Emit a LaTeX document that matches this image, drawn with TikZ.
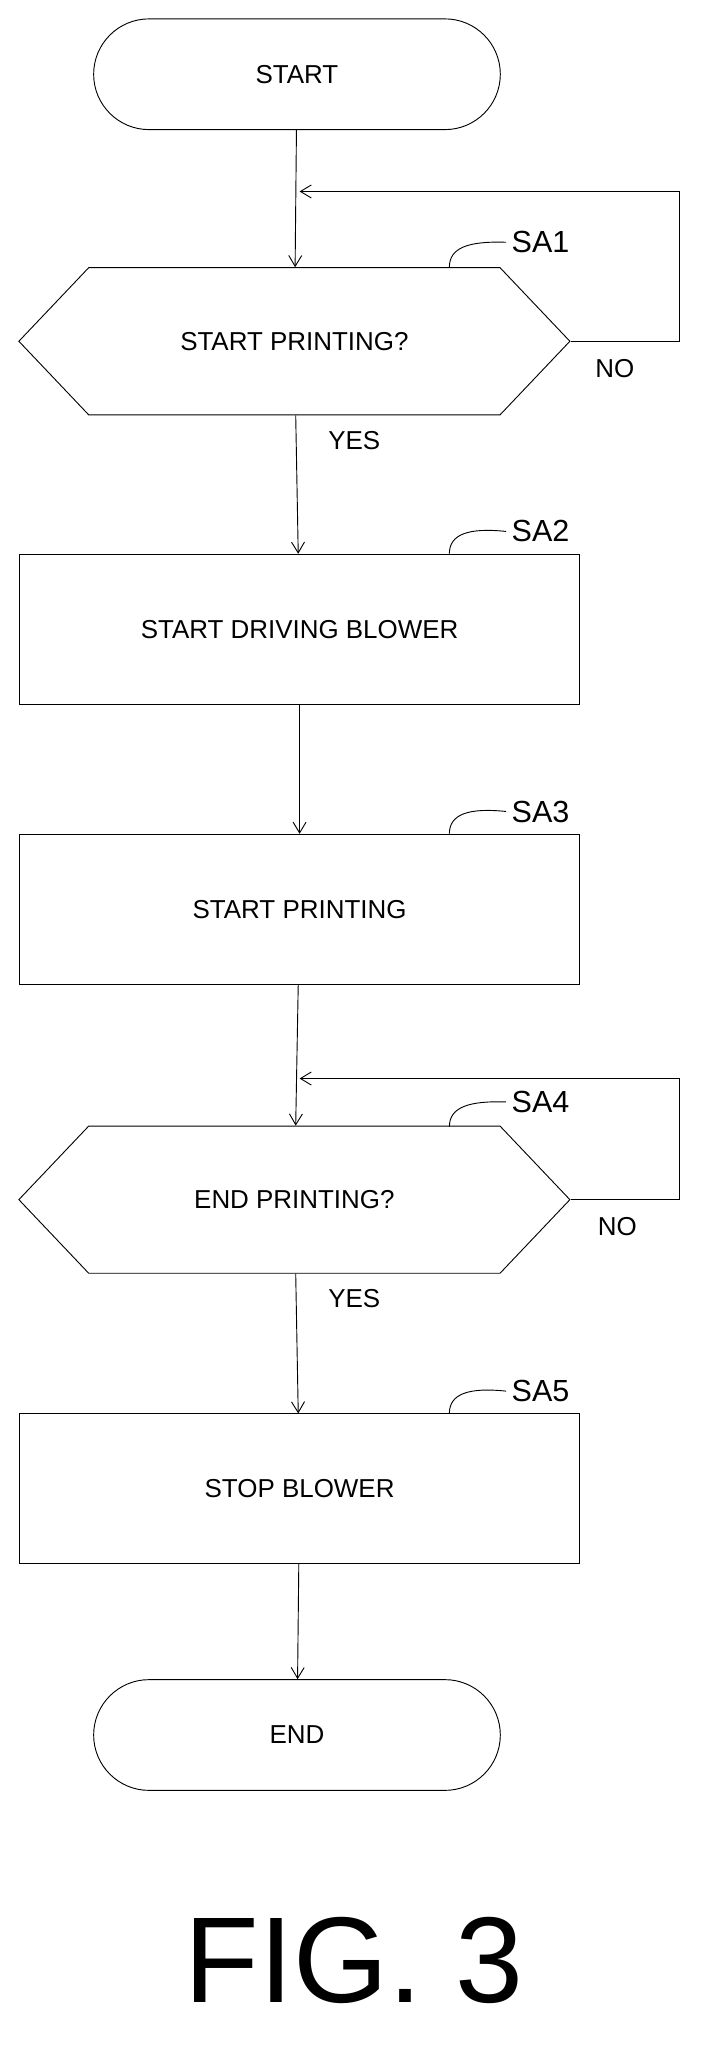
\documentclass[tikz,border=0pt]{standalone}
\usepackage{fontspec}
\setmainfont{Liberation Sans}
\usetikzlibrary{shapes.symbols,shapes.misc,arrows.meta,positioning}
\tikzset
{
  term/.style     = {rounded rectangle, draw=black, align=center, minimum width=9.6cm, minimum height=2.55cm},
  process/.style  = {rectangle, draw=black, align=center, minimum width=12.9cm, minimum height=3.45cm},
  decide/.style   = {signal, signal to=west and east, signal pointer angle=93, draw=black, align=center, minimum width=12.69cm, minimum height=3.39cm, inner sep=0pt},
  tag/.style      = {font=\fontsize{20}{24}\selectfont},
  squig/.style    = {draw=black}
}
\begin{document}
\begin{tikzpicture}[x=0.03cm,y=-0.03cm,semithick,>={Straight Barb[length=2.5mm,width=3mm]},font=\fontsize{17}{20}\selectfont]
  \useasboundingbox (0,0) rectangle (540,1570);
  \node [term]    (start) at (228,57)   {START};
  \node [decide]  (sa1)   at (226,262)  {START PRINTING?};
  \node [process] (sa2)   at (230,483)  {START DRIVING BLOWER};
  \node [process] (sa3)   at (230,698)  {START PRINTING};
  \node [decide]  (sa4)   at (226,921)  {END PRINTING?};
  \node [process] (sa5)   at (230,1143) {STOP BLOWER};
  \node [term]    (end)   at (228,1332) {END};
  % step labels
  \node [tag] (l1) at (415,186)  {SA1};
  \node [tag] (l2) at (415,408)  {SA2};
  \node [tag] (l3) at (415,623)  {SA3};
  \node [tag] (l4) at (415,846)  {SA4};
  \node [tag] (l5) at (415,1068) {SA5};
  \foreach \n/\y in {1/205,2/425,3/640,4/865,5/1085}
    \draw [squig] (345,\y) .. controls (345,\y-15) and (360,\y-20) .. (l\n.west);
  % connectors
  \coordinate (j1) at (230,147);
  \coordinate (j4) at (230,828);
  \draw [->] (start) -- (sa1);
  \draw [->] (sa1.east) -- ++(84,0) |- (j1);
  \draw [->] (sa1) -- (sa2);
  \draw [->] (sa2) -- (sa3);
  \draw [->] (sa3) -- (sa4);
  \draw [->] (sa4.east) -- ++(84,0) |- (j4);
  \draw [->] (sa4) -- (sa5);
  \draw [->] (sa5) -- (end);
  \node (no1)  at (472,283)  {NO};
  \node (yes1) at (272,338)  {YES};
  \node (no4)  at (474,942)  {NO};
  \node (yes4) at (272,997)  {YES};
  \node [font=\fontsize{80}{84}\selectfont] (fig) at (272,1505) {FIG. 3};
\end{tikzpicture}
\end{document}
